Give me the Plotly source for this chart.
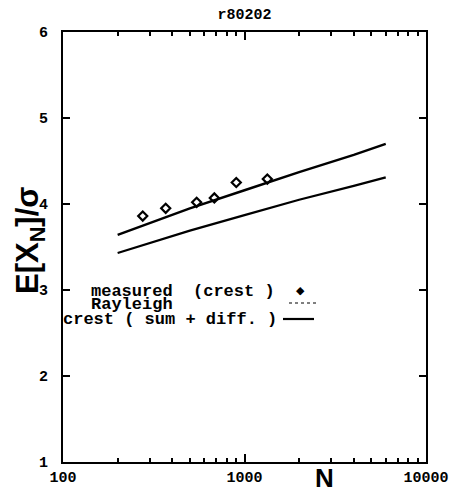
import plotly.graph_objects as go

# Data
meas_N = [275, 368, 545, 682, 901, 1336]
meas_val = [3.86, 3.95, 4.02, 4.07, 4.25, 4.29]

line_N = [200, 500, 1000, 2000, 4000, 6000]
rayleigh_val = [3.43, 3.69, 3.87, 4.05, 4.21, 4.31]
crest_val = [3.64, 3.95, 4.16, 4.37, 4.57, 4.70]

y_ticks = [1, 2, 3, 4, 5, 6]
y_tick_labels = ["1", "2", "3", "4", "5", "6"]

MONO = "Liberation Mono, Courier New, monospace"
SANS = "Liberation Sans, Arial, sans-serif"

fig = go.Figure()
fig.add_trace(go.Scatter(x=line_N, y=rayleigh_val, mode="lines",
                         line=dict(color="black", width=2.2), showlegend=False))
fig.add_trace(go.Scatter(x=line_N, y=crest_val, mode="lines",
                         line=dict(color="black", width=2.4), showlegend=False))
fig.add_trace(go.Scatter(x=meas_N, y=meas_val, mode="markers",
                         marker=dict(symbol="diamond-open", size=7, color="black",
                                     line=dict(width=2.2, color="black")),
                         showlegend=False))

W, H = 452, 493
L, R, T, B = 63, 426, 32, 462

def px(x):
    return (x - L) / (R - L)

def py(y):
    return (B - y) / (B - T)

nb = "\u00a0"
anns = [
    dict(text="measured" + nb * 2 + "(crest" + nb + ")", x=px(89), y=py(291)),
    dict(text="Rayleigh", x=px(89), y=py(304)),
    dict(text="crest" + nb + "(" + nb + "sum" + nb + "+" + nb + "diff." + nb + ")", x=px(61), y=py(319)),
]
annotations = []
for a in anns:
    annotations.append(dict(text="<b>" + a["text"] + "</b>", x=a["x"], y=a["y"],
                            xref="paper", yref="paper", xanchor="left", yanchor="middle",
                            showarrow=False, font=dict(family=MONO, size=17, color="black")))
annotations.append(dict(text="<b>E[X<sub>N</sub>]/σ</b>", x=px(30), y=py(240),
                        xref="paper", yref="paper", xanchor="center", yanchor="middle",
                        textangle=-90, showarrow=False,
                        font=dict(family=SANS, size=31, color="black")))
annotations.append(dict(text="<b>N</b>", x=px(324), y=py(478),
                        xref="paper", yref="paper", xanchor="center", yanchor="middle",
                        showarrow=False, font=dict(family=SANS, size=26, color="black")))
annotations.append(dict(text="◆", x=px(300), y=py(290), xref="paper", yref="paper",
                        xanchor="center", yanchor="middle", showarrow=False,
                        font=dict(family="DejaVu Sans", size=11, color="black")))

shapes = [
    dict(type="line", xref="paper", yref="paper", x0=px(289), x1=px(318), y0=py(303), y1=py(303),
         line=dict(color="black", width=1.2, dash="dot")),
    dict(type="line", xref="paper", yref="paper", x0=px(283), x1=px(314), y0=py(319), y1=py(319),
         line=dict(color="black", width=2.2)),
]

fig.update_layout(
    width=W, height=H,
    margin=dict(l=L, r=W - R, t=T, b=H - B, autoexpand=False),
    paper_bgcolor="white", plot_bgcolor="white",
    title=dict(text="<b>r80202</b>", x=0.5, xref="paper", xanchor="center",
               y=1 - 14 / H, yref="container", yanchor="middle",
               font=dict(family=MONO, size=15, color="black")),
    annotations=annotations, shapes=shapes,
    showlegend=False,
    xaxis=dict(type="log", range=[2, 4], tickmode="linear", tick0=0, dtick=1,
               tickformat="d",
               showgrid=False, zeroline=False, showline=True, linecolor="black", linewidth=2,
               mirror="ticks", ticks="inside", ticklen=8, tickwidth=2, tickcolor="black",
               minor=dict(dtick="D1", ticks="inside", ticklen=4,
                          tickwidth=1.5, tickcolor="black", showgrid=False),
               automargin=False,
               tickfont=dict(family=MONO, size=15, color="black", weight="bold")),
    yaxis=dict(range=[1, 6], tickvals=y_ticks,
               ticktext=["<b>" + t + "</b>" for t in y_tick_labels],
               showgrid=False, zeroline=False, showline=True, linecolor="black", linewidth=2,
               mirror="ticks", ticks="inside", ticklen=7, tickwidth=1.5, tickcolor="black",
               ticklabelstandoff=10, automargin=False,
               tickfont=dict(family=MONO, size=15, color="black")),
)

fig.write_html("out.html", config={"displayModeBar": False},
               post_script="document.body.style.margin='0';")
